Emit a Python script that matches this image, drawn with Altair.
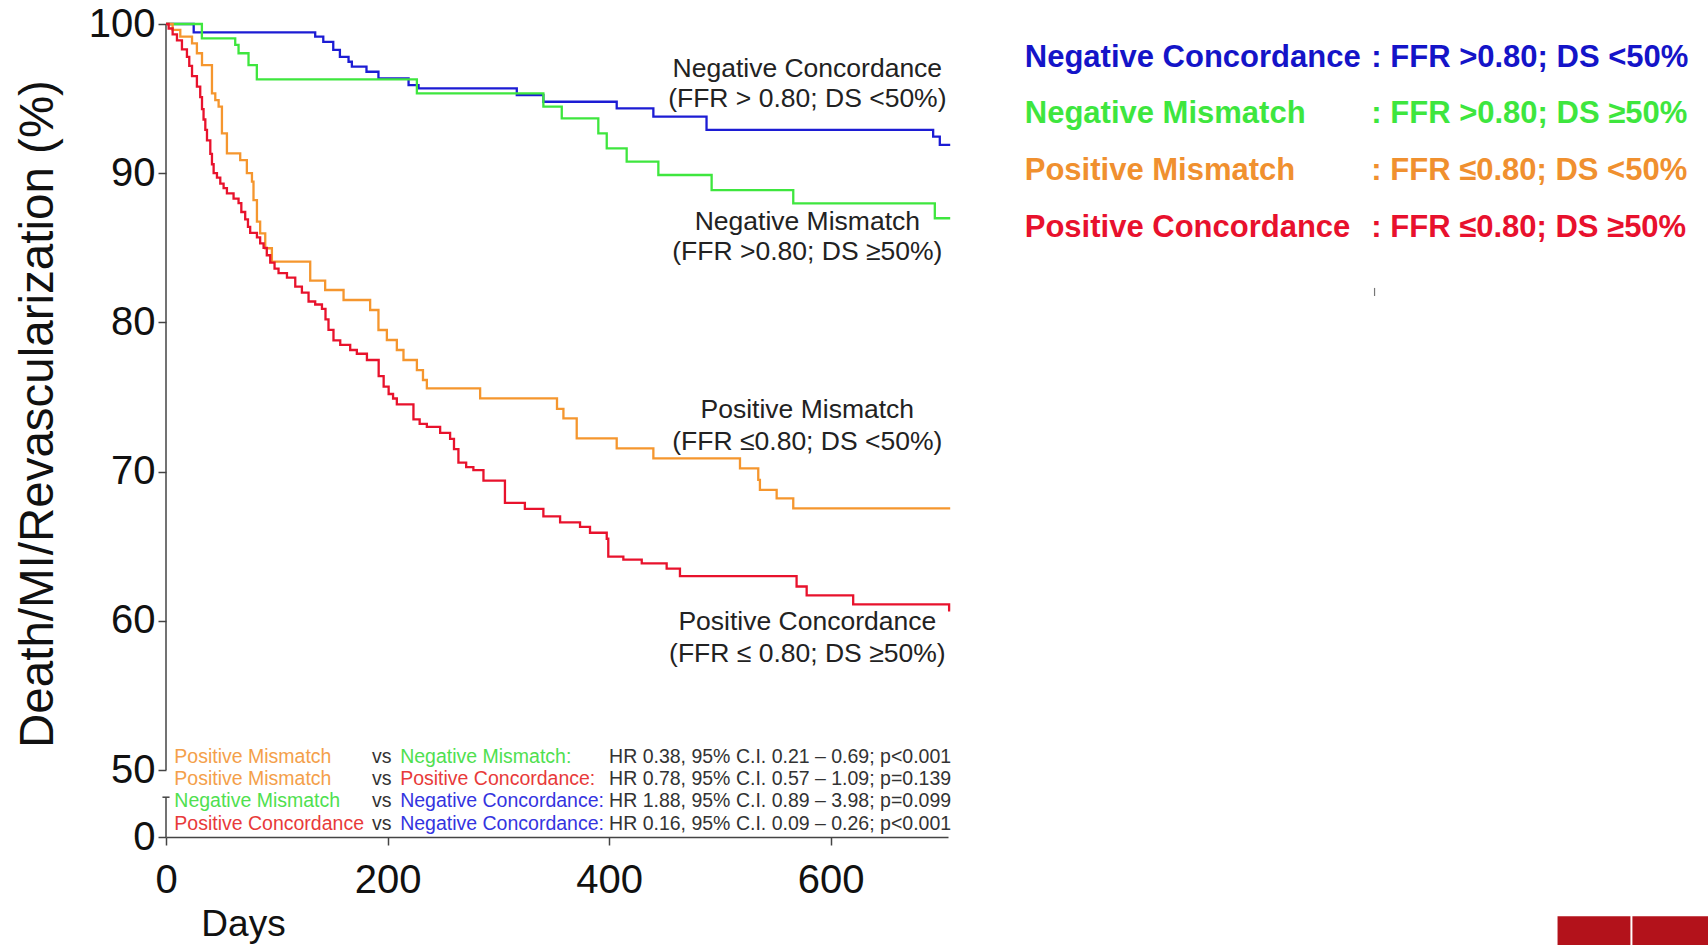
import altair as alt
import pandas as pd

# ---------------- data ----------------
groups = ["Negative Concordance", "Negative Mismatch", "Positive Mismatch", "Positive Concordance"]
colors = ["#1c1cd4", "#3ee63e", "#f5962e", "#e8122c"]

blue_days = [0, 25, 134.7, 142, 151, 157, 164.8, 167.8, 181, 191.8, 219, 228, 316.7, 340.7, 406.9, 440, 488, 692.6, 698.6, 708]
blue_vals = [100, 99.44, 99.15, 98.8, 98.26, 97.8, 97.47, 97.14, 96.8, 96.36, 95.9, 95.69, 95.24, 94.79, 94.35, 93.79, 92.9, 92.45, 91.9, 91.9]

green_days = [0, 32.4, 62.5, 65.5, 74.5, 82, 226.5, 340.7, 357.3, 390.3, 397.9, 415.9, 444.5, 492.6, 566.3, 694.1, 708]
green_vals = [100, 99.04, 98.6, 98.04, 97.25, 96.29, 95.35, 94.46, 93.68, 92.67, 91.67, 90.77, 89.88, 88.87, 87.98, 86.98, 86.98]

orange_days = [0, 6, 12.9, 23.5, 27.9, 32.5, 41.5, 44.5, 47.5, 50.5, 55, 67, 73, 77.6, 79, 82.1, 85, 89.6, 95.6,
               130.2, 143.7, 160.3, 184.3, 191.8, 199.4, 208.4, 214.4, 226.5, 232, 235.5, 283.6, 353, 358.8, 370.8,
               406.9, 440, 518.2, 534.7, 536.2, 551.3, 566.3, 708]
orange_vals = [100, 99.6, 99.15, 98.7, 98.04, 97.25, 95.35, 94.9, 94.46, 92.67, 91.33, 90.88, 90.0, 89.43, 88.2, 86.75,
               85.97, 84.97, 84.07, 82.8, 82.17, 81.5, 80.83, 79.49, 78.82, 78.15, 77.48, 76.8, 76.14, 75.58, 74.91,
               74.2, 73.57, 72.23, 71.56, 70.89, 70.22, 69.44, 68.77, 68.21, 67.54, 67.54]

red_days = [0, 2.4, 6, 9.9, 14.4, 18.9, 21, 23.5, 27.9, 30.9, 32.5, 33.9, 35.5, 37, 40, 41.5, 43, 46, 49, 52,
            55, 61, 65.5, 68, 71.5, 74, 76, 82.1, 85, 88.1, 91, 94.1, 98, 101.6, 109.2, 116.7, 122.7, 128.7, 134.7,
            140.8, 144, 146.7, 151.2, 157.3, 166.3, 172.3, 181.4, 192, 196.5, 201, 205, 208.4, 223.4, 229, 235.5,
            247.5, 256.5, 260, 264, 271, 277.5, 286.6, 306, 324, 340.7, 355.8, 373.8, 382.8, 397.9, 399.3, 412.9,
            429.5, 452, 464, 569.3, 578.4, 620.4, 707, 708]
red_vals = [100, 99.7, 99.3, 98.9, 98.3, 97.8, 97.2, 96.5, 95.8, 95.1, 94.3, 93.6, 92.9, 92.2, 91.3, 90.6, 90.0, 89.7,
            89.3, 89.0, 88.65, 88.3, 88.0, 87.4, 86.9, 86.4, 86.0, 85.7, 85.3, 85.0, 84.5, 84.0, 83.6, 83.3, 83.0,
            82.4, 82.0, 81.4, 81.2, 80.9, 80.2, 79.5, 78.8, 78.5, 78.15, 77.9, 77.48, 76.4, 75.7, 75.2, 74.9, 74.5,
            73.5, 73.2, 73.0, 72.6, 72.2, 71.5, 70.6, 70.3, 70.1, 69.4, 67.9, 67.5, 67.0, 66.6, 66.3, 65.9, 65.5,
            64.3, 64.1, 63.85, 63.5, 63.0, 62.3, 61.7, 61.1, 60.7, 60.7]

x_ticks = [0, 200, 400, 600]
y_ticks = [0, 50, 60, 70, 80, 90, 100]

# curve labels on the plot
curve_label_text = ["Negative Concordance", "(FFR > 0.80; DS <50%)",
                    "Negative Mismatch", "(FFR >0.80; DS \u226550%)",
                    "Positive Mismatch", "(FFR \u22640.80; DS <50%)",
                    "Positive Concordance", "(FFR \u2264 0.80; DS \u226550%)"]
curve_label_day = [579, 579, 579, 579, 579, 579, 579, 579]
curve_label_val = [96.45, 94.44, 86.19, 84.18, 73.59, 71.45, 59.38, 57.26]

# hazard-ratio table at the bottom
stat_text = ["Positive Mismatch", "vs", "Negative Mismatch:", "HR 0.38, 95% C.I. 0.21 \u2013 0.69; p<0.001",
             "Positive Mismatch", "vs", "Positive Concordance:", "HR 0.78, 95% C.I. 0.57 \u2013 1.09; p=0.139",
             "Negative Mismatch", "vs", "Negative Concordance:", "HR 1.88, 95% C.I. 0.89 \u2013 3.98; p=0.099",
             "Positive Concordance", "vs", "Negative Concordance:", "HR  0.16, 95% C.I. 0.09 \u2013 0.26; p<0.001"]
stat_day = [7.5, 185.9, 211.4, 400] * 4
stat_val = [50.45] * 4 + [38.9] * 4 + [22.3] * 4 + [5.4] * 4
stat_color = ["#f4a04a", "#333333", "#4fe04f", "#333333",
              "#f4a04a", "#333333", "#e83a3a", "#333333",
              "#4fe04f", "#333333", "#3434e0", "#333333",
              "#e83a3a", "#333333", "#3434e0", "#333333"]

# definitions block at the top right
def_name = ["Negative Concordance", "Negative Mismatch", "Positive Mismatch", "Positive Concordance"]
def_rule = [": FFR >0.80; DS <50%", ": FFR >0.80; DS \u226550%", ": FFR \u22640.80; DS <50%", ": FFR \u22640.80; DS \u226550%"]
def_val = [97.14, 93.34, 89.54, 85.74]
def_color = ["#1414c8", "#3ee63e", "#f0902f", "#e8112d"]
def_name_day = 775.3
def_rule_day = 1088.2

# broken y axis pieces
axis_seg_y1 = [50, 0]
axis_seg_y2 = [100, 29.7]

# ---------------- build ----------------
W, H = 782, 813
xs = alt.Scale(domain=[0, 706], nice=False, zero=False)
ys = alt.Scale(domain=[0, 50, 100], range=[813, 746, 0], nice=False, zero=False)

rows = []
for g, d, v in [(groups[0], blue_days, blue_vals), (groups[1], green_days, green_vals),
                (groups[2], orange_days, orange_vals), (groups[3], red_days, red_vals)]:
    for a, b in zip(d, v):
        rows.append({"day": a, "pct": b, "group": g})
curves = pd.DataFrame(rows)

BASE_FONT = "Liberation Sans, Arial, sans-serif"

lines = alt.Chart(curves).mark_line(interpolate="step-after", strokeWidth=2.3, clip=False).encode(
    x=alt.X("day:Q", scale=xs, axis=alt.Axis(
        values=x_ticks, title="Days", grid=False, domain=True, domainColor="#444", domainWidth=1.5,
        tickSize=8, tickWidth=1.5, tickColor="#444", labelFontSize=40, labelFont=BASE_FONT,
        labelColor="#111", labelBaseline="alphabetic", labelPadding=47, labelFlush=False,
        titleFontSize=37, titleFont=BASE_FONT, titleFontWeight="normal", titleColor="#111",
        titleX=77, titleY=98, titleAlign="center", titleBaseline="alphabetic", titleAnchor="start")),
    y=alt.Y("pct:Q", scale=ys, axis=alt.Axis(
        values=y_ticks, title="Death/MI/Revascularization (%)", grid=False, domain=False,
        tickSize=8, tickWidth=1.5, tickColor="#444", labelFontSize=40, labelFont=BASE_FONT,
        labelColor="#111", labelPadding=3, labelBaseline="middle", labelFlush=False,
        titleFontSize=47.5, titleFont=BASE_FONT, titleFontWeight="normal", titleColor="#111",
        titleAngle=270, titleX=-114, titleY=389.5, titleAlign="center", titleBaseline="alphabetic",
        titleAnchor="start")),
    color=alt.Color("group:N", scale=alt.Scale(domain=groups, range=colors), legend=None),
)

axis_df = pd.DataFrame({"x": [0, 0], "y1": axis_seg_y1, "y2": axis_seg_y2})
axis_rules = alt.Chart(axis_df).mark_rule(color="#444", strokeWidth=1.5).encode(
    x=alt.X("x:Q", scale=xs), y=alt.Y("y1:Q", scale=ys), y2="y2:Q")

cap_df = pd.DataFrame({"x": [-3.2], "x2": [3.2], "y": [29.7]})
cap_rule = alt.Chart(cap_df).mark_rule(color="#444", strokeWidth=1.5).encode(
    x=alt.X("x:Q", scale=xs), x2="x2:Q", y=alt.Y("y:Q", scale=ys))

lab_df = pd.DataFrame({"t": curve_label_text, "day": curve_label_day, "v": curve_label_val})
labels = alt.Chart(lab_df).mark_text(align="center", baseline="alphabetic", fontSize=26.5,
                                     font=BASE_FONT, color="#222").encode(
    x=alt.X("day:Q", scale=xs), y=alt.Y("v:Q", scale=ys), text="t:N")

st_df = pd.DataFrame({"t": stat_text, "day": stat_day, "v": stat_val, "c": stat_color})
stats = alt.Chart(st_df).mark_text(align="left", baseline="alphabetic", fontSize=19.5,
                                   font=BASE_FONT).encode(
    x=alt.X("day:Q", scale=xs), y=alt.Y("v:Q", scale=ys), text="t:N",
    color=alt.Color("c:N", scale=None))

def_df = pd.DataFrame({"name": def_name, "rule": def_rule, "v": def_val, "c": def_color,
                       "d1": [def_name_day] * 4, "d2": [def_rule_day] * 4})
def_names = alt.Chart(def_df).mark_text(align="left", baseline="alphabetic", fontSize=31,
                                        fontWeight="bold", font=BASE_FONT).encode(
    x=alt.X("d1:Q", scale=xs), y=alt.Y("v:Q", scale=ys), text="name:N",
    color=alt.Color("c:N", scale=None))
def_rules = alt.Chart(def_df).mark_text(align="left", baseline="alphabetic", fontSize=31,
                                        fontWeight="bold", font=BASE_FONT).encode(
    x=alt.X("d2:Q", scale=xs), y=alt.Y("v:Q", scale=ys), text="rule:N",
    color=alt.Color("c:N", scale=None))

# stray tick mark under the definitions and the corner logo blocks
stray_df = pd.DataFrame({"x": [1091.1], "y": [82.31], "y2": [81.77]})
stray = alt.Chart(stray_df).mark_rule(color="#777", strokeWidth=1.2).encode(
    x=alt.X("x:Q", scale=xs), y=alt.Y("y:Q", scale=ys), y2="y2:Q")

logo_df = pd.DataFrame({"x": [1256.3, 1323.9], "x2": [1322.1, 1400], "y": [-59.2, -59.2], "y2": [-90, -90]})
logo = alt.Chart(logo_df).mark_rect(color="#b3121b").encode(
    x=alt.X("x:Q", scale=xs), x2="x2:Q", y=alt.Y("y:Q", scale=ys), y2="y2:Q")

chart = alt.layer(axis_rules, cap_rule, lines, labels, stats, def_names, def_rules, stray, logo).properties(
    width=W, height=H,
    autosize=alt.AutoSizeParams(type="none"),
    padding={"left": 166, "top": 24, "right": 760, "bottom": 108},
    background="white",
).configure_view(stroke=None)

chart.save("out.html", embed_options={"renderer": "svg", "actions": False})
